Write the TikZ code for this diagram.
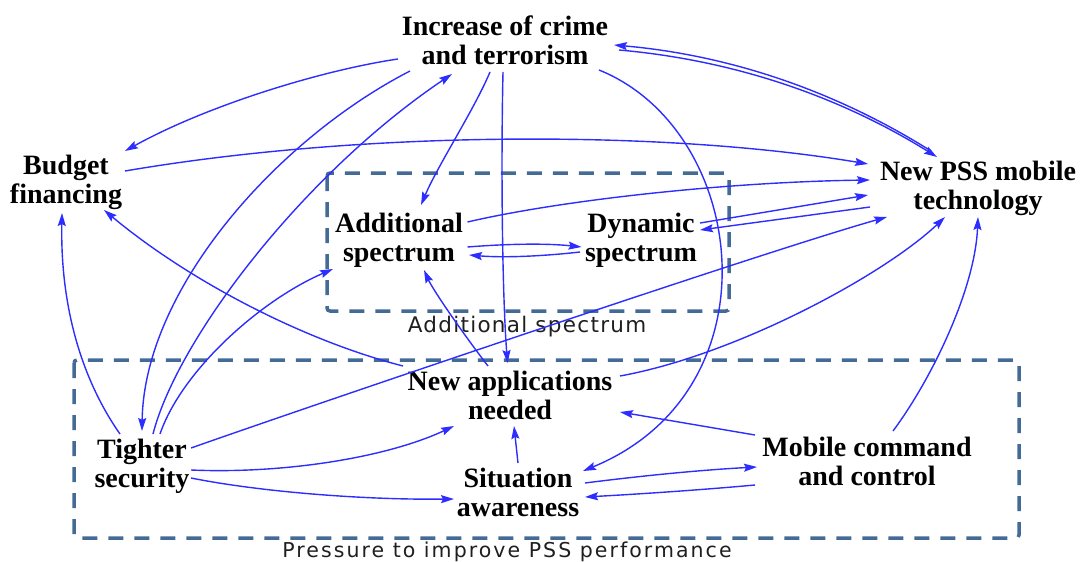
\documentclass[tikz,border=0pt]{standalone}
\usepackage{fontspec}
\setmainfont{Liberation Serif}
\newfontfamily\tagfont[LetterSpace=6]{DejaVu Sans}
\newfontfamily\widetagfont[LetterSpace=10]{DejaVu Sans}
\usetikzlibrary{arrows.meta}

\definecolor{linkblue}{RGB}{45,45,255}
\definecolor{groupblue}{RGB}{68,106,150}

\begin{document}
\begin{tikzpicture}[x=1pt,y=-1pt,
  factor/.style={font=\fontsize{28}{29}\selectfont\bfseries, align=center, inner sep=0pt},
  link/.style={draw=linkblue, line width=1.4pt, -{Stealth[length=13pt,width=8pt,inset=2pt]}},
  group/.style={draw=groupblue, line width=3.5pt, dash pattern=on 15pt off 11pt, rounded corners=3pt},
  grouplabel/.style={font=\tagfont\fontsize{21.5}{23}\selectfont, text=black!88, inner sep=0pt, anchor=base}
]
\useasboundingbox (0,0) rectangle (1090,562);

% dashed groups
\draw[group] (327,173) rectangle (729,311);
\node[grouplabel] (lblspec) at (527,332) {Additional spectrum};
\draw[group] (74,360) rectangle (1019,538);
\node[grouplabel, font=\widetagfont\fontsize{20.5}{22}\selectfont] (lblpress) at (507,557) {Pressure to improve PSS performance};

% factors
\node[factor] (crime)     at (505,40)  {Increase of crime\\and terrorism};
\node[factor] (budget)    at (66,182)  {Budget\\financing};
\node[factor] (pss)       at (978,188) {New PSS mobile\\technology};
\node[factor] (addspec)   at (399,240) {Additional\\spectrum};
\node[factor] (dynspec)   at (641,240) {Dynamic\\spectrum};
\node[factor] (newapp)    at (510,395) {New applications\\needed};
\node[factor] (tighter)   at (142,466) {Tighter\\security};
\node[factor] (situation) at (518,492) {Situation\\awareness};
\node[factor] (mobile)    at (867,461) {Mobile command\\and control};

% links out of crime and terrorism
\draw[link] ([shift={(-107,19)}]crime.center) .. controls (323,70) and (208,105) .. ([shift={(59,-31)}]budget.center);
\draw[link] ([shift={(-95,31)}]crime.center) .. controls (276,140) and (144,290) .. ([shift={(0,-35)}]tighter.center);
\draw[link] ([shift={(-15,32)}]crime.center) .. controls (474,110) and (438,165) .. ([shift={(22,-35)}]addspec.center);
\draw[link] ([shift={(-2,32)}]crime.center) .. controls (501,160) and (502,290) .. ([shift={(-2.5,-32)}]newapp.center);
\draw[link] ([shift={(94,30)}]crime.center) .. controls (748,130) and (780,390) .. ([shift={(65,-21)}]situation.center);
\draw[link] ([shift={(114,10)}]crime.center) .. controls (733,60) and (839,96) .. ([shift={(-41,-31)}]pss.center);
\draw[link] ([shift={(-47,-37)}]pss.center) .. controls (834,90) and (728,55) .. ([shift={(109,5)}]crime.center);

% links out of tighter security
\draw[link] ([shift={(11,-32)}]tighter.center) .. controls (177,340) and (302,175) .. ([shift={(-53,34)}]crime.center);
\draw[link] ([shift={(18,-32)}]tighter.center) .. controls (182,370) and (261,300) .. ([shift={(-66,29)}]addspec.center);
\draw[link] ([shift={(-22,-32)}]tighter.center) .. controls (89,390) and (60,320) .. ([shift={(-4,31)}]budget.center);
\draw[link] ([shift={(49,-18)}]tighter.center) .. controls (313,405) and (769,250) .. ([shift={(-91,29)}]pss.center);
\draw[link] ([shift={(49,4)}]tighter.center) .. controls (282,474) and (386,458) .. ([shift={(-56,31)}]newapp.center);
\draw[link] ([shift={(49,12)}]tighter.center) .. controls (261,492) and (365,500) .. ([shift={(-64,7)}]situation.center);

% budget and spectrum links
\draw[link] ([shift={(59,-11)}]budget.center) .. controls (365,130) and (665,130) .. ([shift={(-110,-24)}]pss.center);
\draw[link] ([shift={(68.5,-18)}]addspec.center) .. controls (562,200) and (727,182) .. ([shift={(-108,-8)}]pss.center);
\draw[link] ([shift={(68.5,7)}]addspec.center) .. controls (505,244) and (545,243) .. ([shift={(-59.5,7)}]dynspec.center);
\draw[link] ([shift={(-61,12)}]dynspec.center) .. controls (545,256) and (505,258) .. ([shift={(70,15)}]addspec.center);
\draw[link] ([shift={(59,-17)}]dynspec.center) -- ([shift={(-110,7)}]pss.center);
\draw[link] ([shift={(-108,19)}]pss.center) -- ([shift={(59,-10)}]dynspec.center);

% links out of new applications needed
\draw[link] ([shift={(-22,-29)}]newapp.center) .. controls (464,335) and (433,290) .. ([shift={(25,30)}]addspec.center);
\draw[link] ([shift={(-107,-29)}]newapp.center) .. controls (302,340) and (188,280) .. ([shift={(38,28)}]budget.center);
\draw[link] ([shift={(110,-19)}]newapp.center) .. controls (736,355) and (884,275) .. ([shift={(-33,29)}]pss.center);

% links out of mobile command and situation awareness
\draw[link] ([shift={(26,-30)}]mobile.center) .. controls (931,380) and (975,290) .. ([shift={(0,29)}]pss.center);
\draw[link] ([shift={(-112,-26)}]mobile.center) -- ([shift={(110,17)}]newapp.center);
\draw[link] ([shift={(0,-29)}]situation.center) -- ([shift={(4,31)}]newapp.center);
\draw[link] ([shift={(67,-9)}]situation.center) .. controls (640,476) and (700,470) .. ([shift={(-110,6)}]mobile.center);
\draw[link] ([shift={(-112,24)}]mobile.center) .. controls (700,490) and (640,494) .. ([shift={(67,5)}]situation.center);
\end{tikzpicture}
\end{document}
